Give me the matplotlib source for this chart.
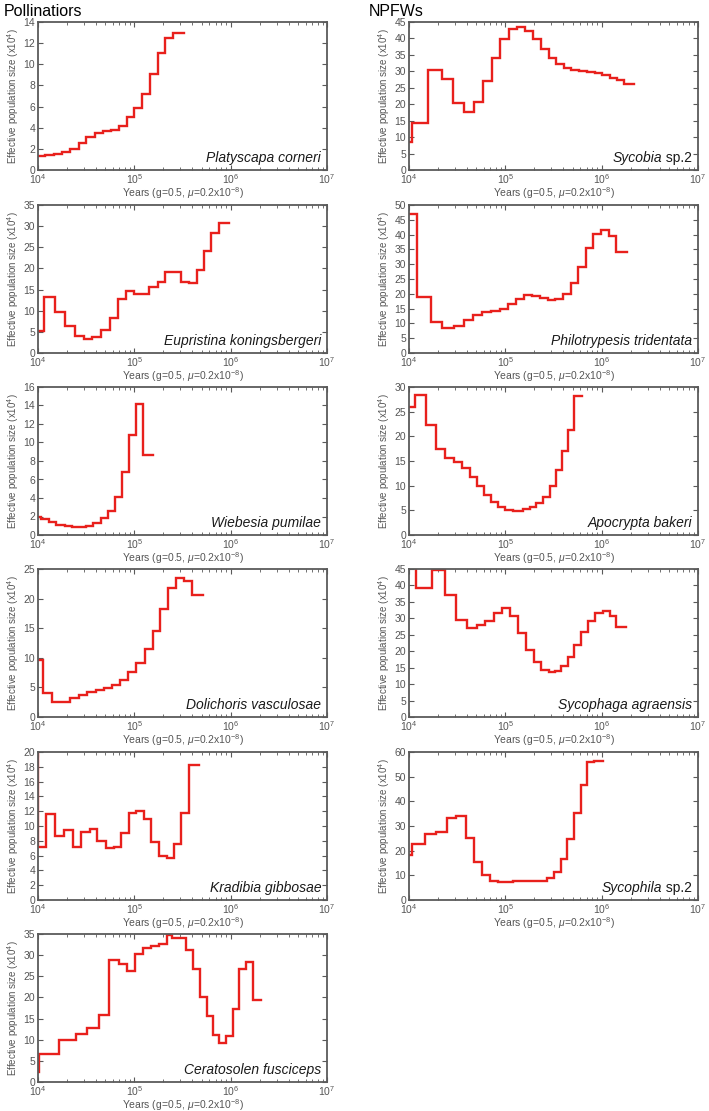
"""
PSMC-style effective population size histories for fig wasps.

Left column: pollinators, right column: non-pollinating fig wasps (NPFWs).
"""
import numpy as np
import matplotlib
matplotlib.use('Agg')
import matplotlib.pyplot as plt
from matplotlib.ticker import LogLocator, MultipleLocator, NullFormatter

plt.rcParams['font.family'] = ['Liberation Sans', 'DejaVu Sans']
plt.rcParams['mathtext.fontset'] = 'custom'
plt.rcParams['mathtext.rm'] = 'Liberation Sans'
plt.rcParams['mathtext.it'] = 'Liberation Sans:italic'
plt.rcParams['mathtext.bf'] = 'Liberation Sans:bold'

LINE_RED = '#e8201c'
FRAME = '#5a5a5a'
TEXT_GREY = '#555555'

# --- data: step edges (years) and Ne (x10^4) -----------------------------
# Pollinators
platyscapa_t = [1.00e4, 1.17e4, 1.46e4, 1.79e4, 2.17e4, 2.65e4, 3.18e4, 3.89e4, 4.74e4,
                5.70e4, 6.90e4, 8.30e4, 1.00e5, 1.20e5, 1.45e5, 1.75e5, 2.08e5, 2.50e5, 3.28e5]
platyscapa_ne = [1.3, 1.4, 1.5, 1.7, 2.0, 2.6, 3.1, 3.5, 3.7, 3.8, 4.2, 5.0, 5.9, 7.2,
                 9.1, 11.1, 12.5, 13.0]

eupristina_t = [1.00e4, 1.15e4, 1.49e4, 1.91e4, 2.41e4, 2.99e4, 3.67e4, 4.56e4, 5.57e4,
                6.79e4, 8.17e4, 9.90e4, 1.43e5, 1.75e5, 2.10e5, 3.03e5, 3.66e5, 4.45e5,
                5.30e5, 6.31e5, 7.53e5, 9.60e5]
eupristina_ne = [5.3, 13.2, 9.7, 6.5, 4.1, 3.4, 3.7, 5.4, 8.2, 12.8, 14.6, 13.9, 15.6,
                 16.8, 19.1, 16.9, 16.6, 19.6, 24.2, 28.3, 30.7]

wiebesia_t = [1.00e4, 1.08e4, 1.29e4, 1.55e4, 1.89e4, 2.28e4, 3.18e4, 3.73e4, 4.46e4,
              5.35e4, 6.28e4, 7.36e4, 8.77e4, 1.05e5, 1.24e5, 1.57e5]
wiebesia_ne = [1.9, 1.7, 1.4, 1.1, 0.95, 0.85, 1.0, 1.3, 1.8, 2.6, 4.1, 6.8, 10.8, 14.2, 8.7]

dolichoris_t = [1.00e4, 1.13e4, 1.40e4, 1.75e4, 2.14e4, 2.65e4, 3.24e4, 3.98e4, 4.86e4,
                5.89e4, 7.13e4, 8.65e4, 1.05e5, 1.28e5, 1.55e5, 1.86e5, 2.23e5, 2.69e5,
                3.25e5, 3.94e5, 5.21e5]
dolichoris_ne = [9.6, 4.0, 2.5, 2.6, 3.2, 3.8, 4.3, 4.6, 4.9, 5.4, 6.3, 7.6, 9.2, 11.5,
                 14.6, 18.3, 21.8, 23.5, 23.0, 20.6]

kradibia_t = [9.50e3, 1.00e4, 1.22e4, 1.51e4, 1.87e4, 2.31e4, 2.82e4, 3.45e4, 4.14e4,
              5.02e4, 6.08e4, 7.31e4, 8.77e4, 1.05e5, 1.25e5, 1.50e5, 1.80e5, 2.16e5,
              2.58e5, 3.08e5, 3.70e5, 4.73e5]
kradibia_ne = [24.0, 7.1, 11.6, 8.7, 9.4, 7.1, 9.2, 9.6, 8.0, 7.0, 7.1, 9.0, 11.7, 12.0,
               10.9, 7.9, 5.9, 5.7, 7.6, 11.7, 18.3]

ceratosolen_t = [1.00e4, 1.02e4, 1.66e4, 2.47e4, 3.26e4, 4.28e4, 5.43e4, 6.85e4, 8.30e4,
                 1.01e5, 1.24e5, 1.49e5, 1.79e5, 2.16e5, 2.48e5, 3.47e5, 4.10e5, 4.81e5,
                 5.65e5, 6.62e5, 7.64e5, 8.97e5, 1.05e6, 1.22e6, 1.44e6, 1.69e6, 2.07e6]
ceratosolen_ne = [2.4, 6.6, 10.0, 11.3, 12.8, 15.9, 28.8, 27.9, 26.3, 30.2, 31.7, 32.1,
                  32.6, 34.8, 34.1, 31.3, 26.8, 20.1, 15.5, 11.1, 9.3, 10.9, 17.2, 26.7,
                  28.3, 19.4]

# NPFWs
sycobia_t = [1.00e4, 1.07e4, 1.57e4, 2.20e4, 2.88e4, 3.72e4, 4.73e4, 5.86e4, 7.33e4,
             8.87e4, 1.09e5, 1.32e5, 1.61e5, 1.95e5, 2.37e5, 2.82e5, 3.38e5, 4.04e5,
             4.84e5, 5.82e5, 7.05e5, 8.45e5, 1.01e6, 1.21e6, 1.44e6, 1.71e6, 2.15e6]
sycobia_ne = [8.5, 14.4, 30.4, 27.8, 20.5, 17.6, 20.6, 27.0, 34.0, 39.8, 42.9, 43.5,
              42.3, 39.8, 36.8, 34.1, 32.2, 31.0, 30.3, 30.0, 29.7, 29.4, 28.8, 28.1,
              27.3, 26.3]

philotrypesis_t = [1.00e4, 1.21e4, 1.68e4, 2.22e4, 2.91e4, 3.69e4, 4.66e4, 5.77e4, 7.16e4,
                   8.73e4, 1.07e5, 1.30e5, 1.56e5, 1.91e5, 2.31e5, 2.77e5, 3.25e5, 3.97e5,
                   4.76e5, 5.68e5, 6.82e5, 8.18e5, 9.77e5, 1.18e6, 1.42e6, 1.85e6]
philotrypesis_ne = [46.8, 18.8, 10.4, 8.3, 9.2, 11.3, 13.0, 13.9, 14.3, 15.0, 16.7, 18.4,
                    19.5, 19.3, 18.5, 17.8, 18.3, 20.0, 23.6, 29.2, 35.4, 40.3, 41.6,
                    39.4, 34.2]

apocrypta_t = [1.00e4, 1.16e4, 1.51e4, 1.92e4, 2.38e4, 2.91e4, 3.55e4, 4.27e4, 5.08e4,
               6.01e4, 7.16e4, 8.39e4, 9.84e4, 1.20e5, 1.52e5, 1.79e5, 2.10e5, 2.46e5,
               2.88e5, 3.33e5, 3.87e5, 4.48e5, 5.12e5, 6.30e5]
apocrypta_ne = [25.9, 28.3, 22.2, 17.5, 15.7, 14.8, 13.5, 11.8, 9.9, 8.2, 6.7, 5.7, 5.1,
                4.9, 5.2, 5.7, 6.5, 7.8, 10.0, 13.2, 17.0, 21.3, 28.2]

sycophaga_t = [1.00e4, 1.17e4, 1.75e4, 2.34e4, 3.10e4, 4.00e4, 5.08e4, 6.19e4, 7.62e4,
               9.31e4, 1.13e5, 1.35e5, 1.63e5, 1.97e5, 2.37e5, 2.82e5, 3.25e5, 3.81e5,
               4.48e5, 5.16e5, 6.05e5, 7.21e5, 8.59e5, 1.03e6, 1.21e6, 1.42e6, 1.80e6]
sycophaga_ne = [49.0, 39.3, 44.8, 37.0, 29.4, 27.2, 28.0, 29.3, 31.5, 33.2, 30.6, 25.4,
                20.4, 16.7, 14.4, 13.6, 13.9, 15.5, 18.2, 21.9, 25.8, 29.3, 31.7, 32.3,
                30.8, 27.5]

sycophila_t = [1.00e4, 1.07e4, 1.48e4, 1.92e4, 2.50e4, 3.10e4, 3.87e4, 4.73e4, 5.77e4,
               6.87e4, 8.39e4, 1.02e5, 1.20e5, 1.41e5, 1.94e5, 2.31e5, 2.73e5, 3.20e5,
               3.75e5, 4.41e5, 5.16e5, 6.05e5, 7.05e5, 8.32e5, 1.03e6]
sycophila_ne = [18.2, 22.6, 26.8, 27.5, 33.2, 34.1, 25.0, 15.4, 10.3, 7.8, 7.1, 7.2, 7.6,
                7.8, 7.7, 7.9, 9.0, 11.5, 16.7, 24.8, 35.2, 46.8, 56.0, 56.5]

# (column, row, times, Ne, genus, epithet, y max, y tick step)
panels = [
    (0, 0, platyscapa_t, platyscapa_ne, 'Platyscapa corneri', '', 14, 2),
    (0, 1, eupristina_t, eupristina_ne, 'Eupristina koningsbergeri', '', 35, 5),
    (0, 2, wiebesia_t, wiebesia_ne, 'Wiebesia pumilae', '', 16, 2),
    (0, 3, dolichoris_t, dolichoris_ne, 'Dolichoris vasculosae', '', 25, 5),
    (0, 4, kradibia_t, kradibia_ne, 'Kradibia gibbosae', '', 20, 2),
    (0, 5, ceratosolen_t, ceratosolen_ne, 'Ceratosolen fusciceps', '', 35, 5),
    (1, 0, sycobia_t, sycobia_ne, 'Sycobia', ' sp.2', 45, 5),
    (1, 1, philotrypesis_t, philotrypesis_ne, 'Philotrypesis tridentata', '', 50, 5),
    (1, 2, apocrypta_t, apocrypta_ne, 'Apocrypta bakeri', '', 30, 5),
    (1, 3, sycophaga_t, sycophaga_ne, 'Sycophaga agraensis', '', 45, 5),
    (1, 4, sycophila_t, sycophila_ne, 'Sycophila', ' sp.2', 60, 10),
]

W, H = 709, 1111
fig = plt.figure(figsize=(W / 100, H / 100), dpi=100)

col_left = [38, 409]
row_top = [22, 205, 387, 569, 752, 934]
ax_w, ax_h = 289, 148

for col, row, t, ne, genus, extra, ymax, ystep in panels:
    left = col_left[col] / W
    bottom = 1 - (row_top[row] + ax_h) / H
    ax = fig.add_axes([left, bottom, ax_w / W, ax_h / H])

    y = np.append(ne, ne[-1])
    ax.step(t, y, where='post', color=LINE_RED, lw=1.7, solid_joinstyle='miter')

    ax.set_xscale('log')
    ax.set_xlim(1e4, 1e7)
    ax.set_ylim(0, ymax)
    ax.yaxis.set_major_locator(MultipleLocator(ystep))
    ax.xaxis.set_major_locator(LogLocator(base=10, numticks=10))
    ax.xaxis.set_minor_locator(LogLocator(base=10, subs=np.arange(2, 10), numticks=20))
    ax.xaxis.set_minor_formatter(NullFormatter())

    ax.tick_params(which='both', direction='in', top=True, right=True,
                   colors=FRAME, labelcolor=TEXT_GREY, labelsize=7.5)
    ax.tick_params(axis='y', pad=2)
    ax.tick_params(axis='x', pad=1.5)
    ax.tick_params(which='major', length=3.5, width=0.8)
    ax.tick_params(which='minor', length=2, width=0.6)
    for sp in ax.spines.values():
        sp.set_color(FRAME)
        sp.set_linewidth(1.3)

    ax.set_xlabel('Years (g=0.5, $\\mu$=0.2x10$^{-8}$)', fontsize=7.5,
                  color=TEXT_GREY, labelpad=-0.5)
    ax.set_ylabel('Effective population size (x10$^4$)', fontsize=7,
                  color=TEXT_GREY, labelpad=2)

    if extra:
        ax.text(0.98, 0.055, extra, transform=ax.transAxes, ha='right', va='baseline',
                fontsize=10, color='#1a1a1a')
        # genus in italics just left of the "sp.2" part
        fig.canvas.draw()
        bb = ax.texts[-1].get_window_extent()
        x_ax = ax.transAxes.inverted().transform((bb.x0, bb.y0))[0]
        ax.text(x_ax, 0.055, genus, transform=ax.transAxes, ha='right', va='baseline',
                fontsize=10, style='italic', color='#1a1a1a')
    else:
        ax.text(0.98, 0.055, genus, transform=ax.transAxes, ha='right', va='baseline',
                fontsize=10, style='italic', color='#1a1a1a')

fig.text(4 / W, 1 - 12 / H, 'Pollinatiors', fontsize=11.5, ha='left', va='center', color='black')
fig.text(369 / W, 1 - 12 / H, 'NPFWs', fontsize=11.5, ha='left', va='center', color='black')

fig.savefig('out.png', dpi=100, facecolor='white')
plt.close(fig)
